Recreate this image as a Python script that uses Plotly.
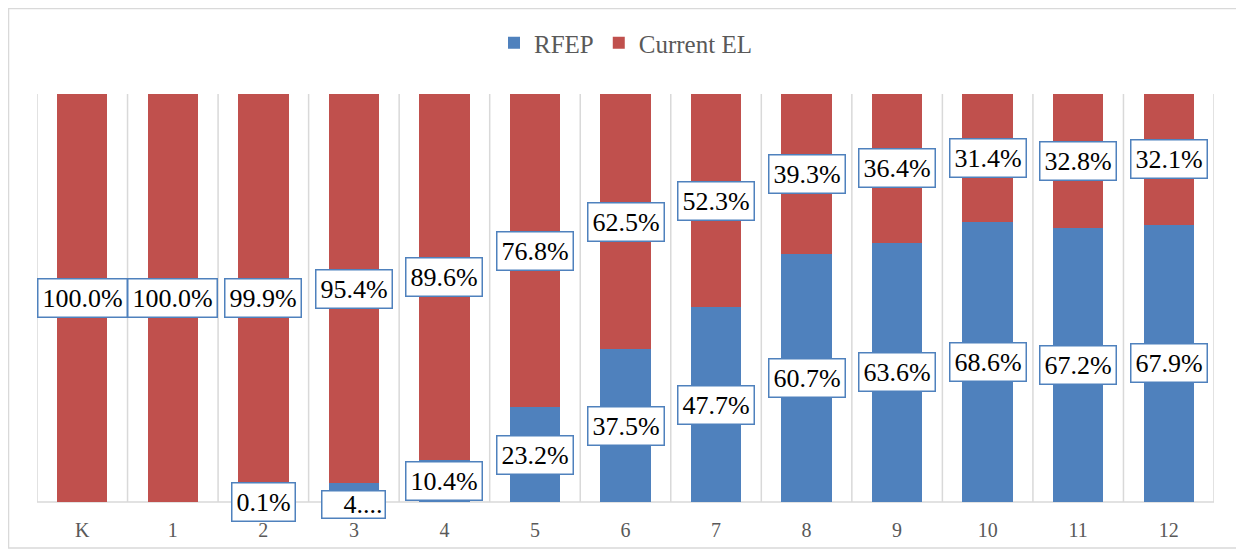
import plotly.graph_objects as go

categories = ["K", "1", "2", "3", "4", "5", "6", "7", "8", "9", "10", "11", "12"]
rfep = [0.0, 0.0, 0.1, 4.6, 10.4, 23.2, 37.5, 47.7, 60.7, 63.6, 68.6, 67.2, 67.9]
current_el = [100.0, 100.0, 99.9, 95.4, 89.6, 76.8, 62.5, 52.3, 39.3, 36.4, 31.4, 32.8, 32.1]
# label text shown truncated in the source chart
truncated_labels = {("RFEP", "3"): "4...."}

BLUE = "#4F81BD"
RED = "#C0504D"
GRID = "#D9D9D9"
SERIF = "Liberation Serif"

fig = go.Figure()
fig.add_trace(go.Bar(name="RFEP", x=categories, y=rfep, marker_color=BLUE,
                     marker_line_width=0, hoverinfo="skip"))
fig.add_trace(go.Bar(name="Current EL", x=categories, y=current_el, marker_color=RED,
                     marker_line_width=0, hoverinfo="skip"))

annotations = []
for i, c in enumerate(categories):
    segs = [("RFEP", 0.0, rfep[i]), ("Current EL", rfep[i], current_el[i])]
    for name, base, v in segs:
        if v <= 0:
            continue
        txt = truncated_labels.get((name, c), f"{v:.1f}%")
        a = dict(x=c, y=base + v / 2, xref="x", yref="y", text=txt, showarrow=False,
                 font=dict(family=SERIF, size=26, color="#000000"),
                 bgcolor="#FFFFFF", bordercolor=BLUE, borderwidth=1.5, borderpad=4)
        if (name, c) in truncated_labels:
            a.update(width=58, height=22, align="right", yshift=-12, borderpad=2)
        annotations.append(a)

shapes = []
for i in range(len(categories) + 1):
    shapes.append(dict(type="line", xref="x", yref="paper", x0=i - 0.5, x1=i - 0.5,
                       y0=0, y1=1, line=dict(color=GRID, width=1.5), layer="below"))
shapes.append(dict(type="line", xref="paper", yref="paper", x0=0, x1=1, y0=0, y1=0,
                   line=dict(color=GRID, width=1.5), layer="below"))
# outer chart border
shapes.append(dict(type="rect", xref="paper", yref="paper",
                   x0=-0.0242, x1=1.0195, y0=-0.1127, y1=1.2096,
                   line=dict(color=GRID, width=1.5), fillcolor="rgba(0,0,0,0)"))

fig.update_layout(
    width=1236, height=546,
    margin=dict(l=29, r=30, t=86, b=52, autoexpand=False),
    barmode="stack", bargap=0.443,
    paper_bgcolor="#FFFFFF", plot_bgcolor="#FFFFFF",
    showlegend=True,
    legend=dict(orientation="h", x=0.5, xanchor="center", y=1.125, yanchor="middle",
                font=dict(family=SERIF, size=25, color="#595959"),
                itemclick=False, itemdoubleclick=False, traceorder="normal"),
    xaxis=dict(type="category", range=[-0.5, len(categories) - 0.5], showgrid=False,
               showline=False, ticks="", ticklabelstandoff=14,
               tickfont=dict(family=SERIF, size=20, color="#595959"),
               fixedrange=True),
    yaxis=dict(range=[0, 100], showgrid=False, showticklabels=False, zeroline=False,
               showline=False, fixedrange=True),
    annotations=annotations, shapes=shapes,
)

fig.write_html("out.html")
